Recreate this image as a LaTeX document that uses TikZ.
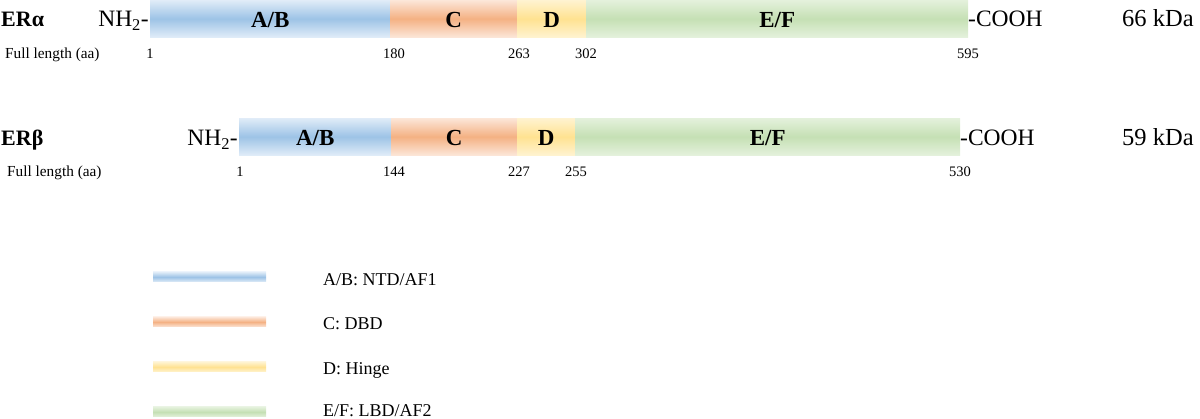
\documentclass[tikz,border=0pt]{standalone}
\usepackage{fontspec}
\setmainfont{Liberation Serif}
\definecolor{blueM}{RGB}{157,195,230}
\definecolor{blueE}{RGB}{224,236,248}
\definecolor{orM}{RGB}{244,177,131}
\definecolor{orE}{RGB}{252,230,216}
\definecolor{yeM}{RGB}{255,226,145}
\definecolor{yeE}{RGB}{255,243,208}
\definecolor{grM}{RGB}{197,224,180}
\definecolor{grE}{RGB}{228,241,220}
\tikzset{
  segbox/.style={inner sep=0pt, minimum height=37pt, anchor=north west,
    font=\bfseries\fontsize{23}{27}\selectfont, text height=17pt, text depth=0pt},
  segab/.style={segbox, top color=blueE, bottom color=blueE, middle color=blueM},
  segc/.style={segbox, top color=orE, bottom color=orE, middle color=orM},
  segd/.style={segbox, top color=yeE, bottom color=yeE, middle color=yeM},
  segef/.style={segbox, top color=grE, bottom color=grE, middle color=grM},
  legline/.style={inner sep=0pt, minimum height=10pt, minimum width=113pt, anchor=west},
  bigtext/.style={inner sep=0pt, font=\fontsize{23.5}{27}\selectfont},
  kdatext/.style={inner sep=0pt, anchor=base west, font=\fontsize{24.5}{28}\selectfont},
  ername/.style={inner sep=0pt, anchor=base west, font=\bfseries\fontsize{22}{26}\selectfont},
  aanum/.style={inner sep=0pt, anchor=base, font=\fontsize{14.5}{17}\selectfont},
  fulllab/.style={inner sep=0pt, anchor=base west, font=\fontsize{15.3}{18}\selectfont},
  legtext/.style={inner sep=0pt, anchor=base west, font=\fontsize{18}{22}\selectfont},
}
\begin{document}
\begin{tikzpicture}[x=1pt,y=-1pt]
\useasboundingbox (0,0) rectangle (1200,419);
% ER alpha
\node[segab, minimum width=240pt] (a1) at (150,0) {A/B};
\node[segc, minimum width=127pt] (c1) at (390,0) {C};
\node[segd, minimum width=69pt] (d1) at (517,0) {D};
\node[segef, minimum width=382pt] (e1) at (586,0) {E/F};
\node[ername] (n1) at (1,27) {ERα};
\node[bigtext, anchor=base east] (nh1) at (149,27) {NH\textsubscript{2}-};
\node[bigtext, anchor=base west] (co1) at (968,27) {-COOH};
\node[kdatext] (k1) at (1122,27) {66 kDa};
\node[fulllab] (f1) at (5,58.5) {Full length (aa)};
\node[aanum] (p11) at (150,58.5) {1};
\node[aanum] (p12) at (394,58.5) {180};
\node[aanum] (p13) at (519,58.5) {263};
\node[aanum] (p14) at (586,58.5) {302};
\node[aanum] (p15) at (968,58.5) {595};
% ER beta
\node[segab, minimum width=152pt] (a2) at (239,118) {A/B};
\node[segc, minimum width=126pt] (c2) at (391,118) {C};
\node[segd, minimum width=58pt] (d2) at (517,118) {D};
\node[segef, minimum width=385pt] (e2) at (575,118) {E/F};
\node[ername] (n2) at (1,146) {ERβ};
\node[bigtext, anchor=base east] (nh2) at (238,146) {NH\textsubscript{2}-};
\node[bigtext, anchor=base west] (co2) at (960,146) {-COOH};
\node[kdatext] (k2) at (1122,146) {59 kDa};
\node[fulllab] (f2) at (7,176.5) {Full length (aa)};
\node[aanum] (p21) at (240,176.5) {1};
\node[aanum] (p22) at (394,176.5) {144};
\node[aanum] (p23) at (519,176.5) {227};
\node[aanum] (p24) at (576,176.5) {255};
\node[aanum] (p25) at (960,176.5) {530};
% legend
\node[legline, top color=blueE, bottom color=blueE, middle color=blueM] (l1) at (153,277) {};
\node[legline, top color=orE, bottom color=orE, middle color=orM] (l2) at (153,322) {};
\node[legline, top color=yeE, bottom color=yeE, middle color=yeM] (l3) at (153,367) {};
\node[legline, top color=grE, bottom color=grE, middle color=grM] (l4) at (153,412) {};
\node[legtext] (t1) at (323,285.5) {A/B: NTD/AF1};
\node[legtext] (t2) at (323,330) {C: DBD};
\node[legtext] (t3) at (323,374.5) {D: Hinge};
\node[legtext] (t4) at (323,416.5) {E/F: LBD/AF2};
\end{tikzpicture}
\end{document}
